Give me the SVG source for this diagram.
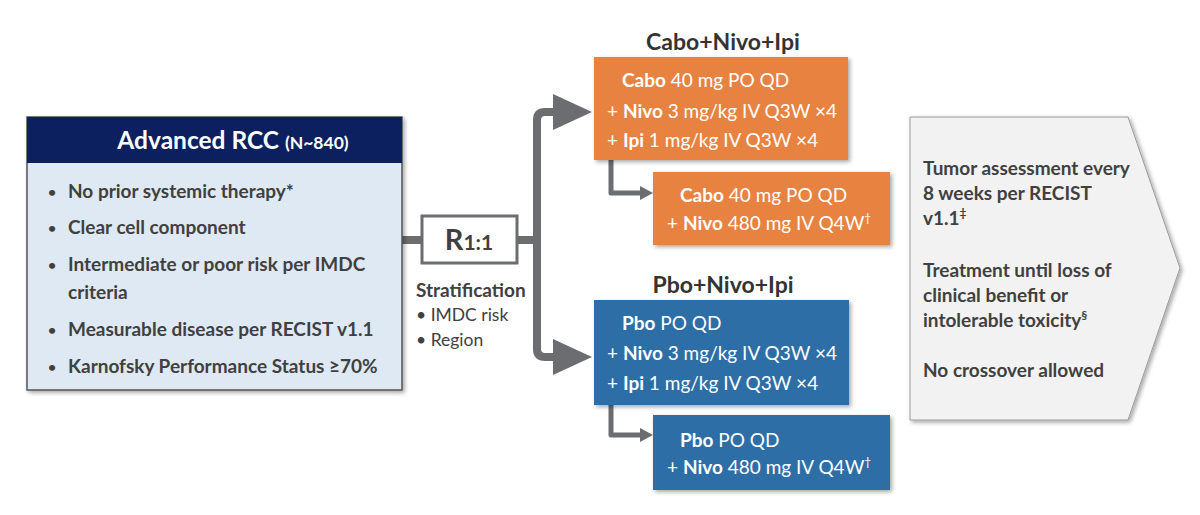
<svg xmlns="http://www.w3.org/2000/svg" width="1200" height="515" viewBox="0 0 1200 515">
<style>
  .t { font-family: Lato, "Open Sans", "Liberation Sans", sans-serif; }
  .body { font-size: 19px; font-weight: 700; fill: #404040; }
  .bul { font-size: 14px; }
  .wt { font-size: 19px; fill: #ffffff; }
  .wt .b { font-weight: 700; }
  .arm { font-size: 23px; font-weight: 700; fill: #333333; }
  .strat { font-size: 17.5px; fill: #404040; }
  .conn { fill: none; stroke: #6b6d70; stroke-linejoin: round; }
</style>
<defs>
  <filter id="sh" x="-10%" y="-10%" width="125%" height="125%">
    <feDropShadow dx="2" dy="2" stdDeviation="2" flood-color="#000" flood-opacity="0.35"/>
  </filter>
</defs>
<rect width="1200" height="515" fill="#ffffff"/>

<g id="connectors">
  <path class="conn" d="M400,240 H422" stroke-width="8"/>
  <path class="conn" d="M517,240 H537" stroke-width="8"/>
  <path class="conn" d="M556,112 H545 Q537,112 537,120 V349 Q537,357 545,357 H556" stroke-width="8"/>
  <polygon points="553,94 592,112 553,130" fill="#6b6d70"/>
  <polygon points="553,339 592,357 553,375" fill="#6b6d70"/>
  <path class="conn" d="M611,160 V193 H641" stroke-width="5"/>
  <polygon points="640,186 653,193 640,200" fill="#6b6d70"/>
  <path class="conn" d="M611,405 V435 H641" stroke-width="5"/>
  <polygon points="640,428 653,435 640,442" fill="#6b6d70"/>
</g>

<g id="population">
  <rect x="27" y="117" width="375" height="273" fill="#dfe9f3" stroke="#555" stroke-width="1.5" filter="url(#sh)"/>
  <rect x="27" y="117" width="375" height="46" fill="#0c1f5f"/>
  <text class="t" x="233" y="149" text-anchor="middle" fill="#fff" font-weight="700" font-size="24.5">Advanced RCC <tspan font-size="17.5">(N~840)</tspan></text>
  <g class="t body">
    <text class="bul" x="48" y="197">•</text><text x="68" y="198">No prior systemic therapy*</text>
    <text class="bul" x="48" y="233">•</text><text x="68" y="234">Clear cell component</text>
    <text class="bul" x="48" y="270">•</text><text x="68" y="271">Intermediate or poor risk per IMDC</text>
    <text x="68" y="299">criteria</text>
    <text class="bul" x="48" y="335">•</text><text x="68" y="336">Measurable disease per RECIST v1.1</text>
    <text class="bul" x="48" y="372">•</text><text x="68" y="373">Karnofsky Performance Status ≥70%</text>
  </g>
</g>

<g id="randomization">
  <rect x="422" y="216" width="95" height="47" fill="#fff" stroke="#6b6d70" stroke-width="3"/>
  <text class="t" x="469" y="250" text-anchor="middle" fill="#404040" font-weight="700" font-size="29">R<tspan font-size="21">1:1</tspan></text>
  <text class="t" x="416" y="297" font-size="19" font-weight="700" fill="#404040">Stratification</text>
  <text class="t strat" x="416" y="321">• IMDC risk</text>
  <text class="t strat" x="416" y="346">• Region</text>
</g>

<g id="arm-cabo">
  <text class="t arm" x="723" y="50" text-anchor="middle">Cabo+Nivo+Ipi</text>
  <rect x="594" y="57" width="254" height="103" fill="#e8823f" filter="url(#sh)"/>
  <g class="t wt">
    <text x="622" y="87"><tspan class="b">Cabo</tspan> 40 mg PO QD</text>
    <text x="607" y="118">+ <tspan class="b">Nivo</tspan> 3 mg/kg IV Q3W ×4</text>
    <text x="607" y="147">+ <tspan class="b">Ipi</tspan> 1 mg/kg IV Q3W ×4</text>
  </g>
</g>

<g id="arm-cabo-maint">
  <rect x="653" y="172" width="237" height="73" fill="#e8823f" filter="url(#sh)"/>
  <g class="t wt">
    <text x="680" y="202"><tspan class="b">Cabo</tspan> 40 mg PO QD</text>
    <text x="667" y="230">+ <tspan class="b">Nivo</tspan> 480 mg IV Q4W<tspan font-size="12" dy="-8">†</tspan></text>
  </g>
</g>

<g id="arm-pbo">
  <text class="t arm" x="723" y="293" text-anchor="middle">Pbo+Nivo+Ipi</text>
  <rect x="594" y="300" width="255" height="105" fill="#2e6ea6" filter="url(#sh)"/>
  <g class="t wt">
    <text x="622" y="330"><tspan class="b">Pbo</tspan> PO QD</text>
    <text x="607" y="360">+ <tspan class="b">Nivo</tspan> 3 mg/kg IV Q3W ×4</text>
    <text x="607" y="390">+ <tspan class="b">Ipi</tspan> 1 mg/kg IV Q3W ×4</text>
  </g>
</g>

<g id="arm-pbo-maint">
  <rect x="653" y="415" width="237" height="75" fill="#2e6ea6" filter="url(#sh)"/>
  <g class="t wt">
    <text x="680" y="447"><tspan class="b">Pbo</tspan> PO QD</text>
    <text x="667" y="474">+ <tspan class="b">Nivo</tspan> 480 mg IV Q4W<tspan font-size="12" dy="-8">†</tspan></text>
  </g>
</g>

<g id="assessment">
  <polygon points="910,117 1128,117 1180,268 1128,420 910,420" fill="#f2f2f2" stroke="#9a9a9a" stroke-width="1" filter="url(#sh)"/>
  <g class="t body">
    <text x="923" y="175">Tumor assessment every</text>
    <text x="923" y="200">8 weeks per RECIST</text>
    <text x="923" y="225">v1.1<tspan font-size="12" dy="-8">‡</tspan></text>
    <text x="923" y="277">Treatment until loss of</text>
    <text x="923" y="302">clinical benefit or</text>
    <text x="923" y="327">intolerable toxicity<tspan font-size="12" dy="-8">§</tspan></text>
    <text x="923" y="377">No crossover allowed</text>
  </g>
</g>
</svg>
